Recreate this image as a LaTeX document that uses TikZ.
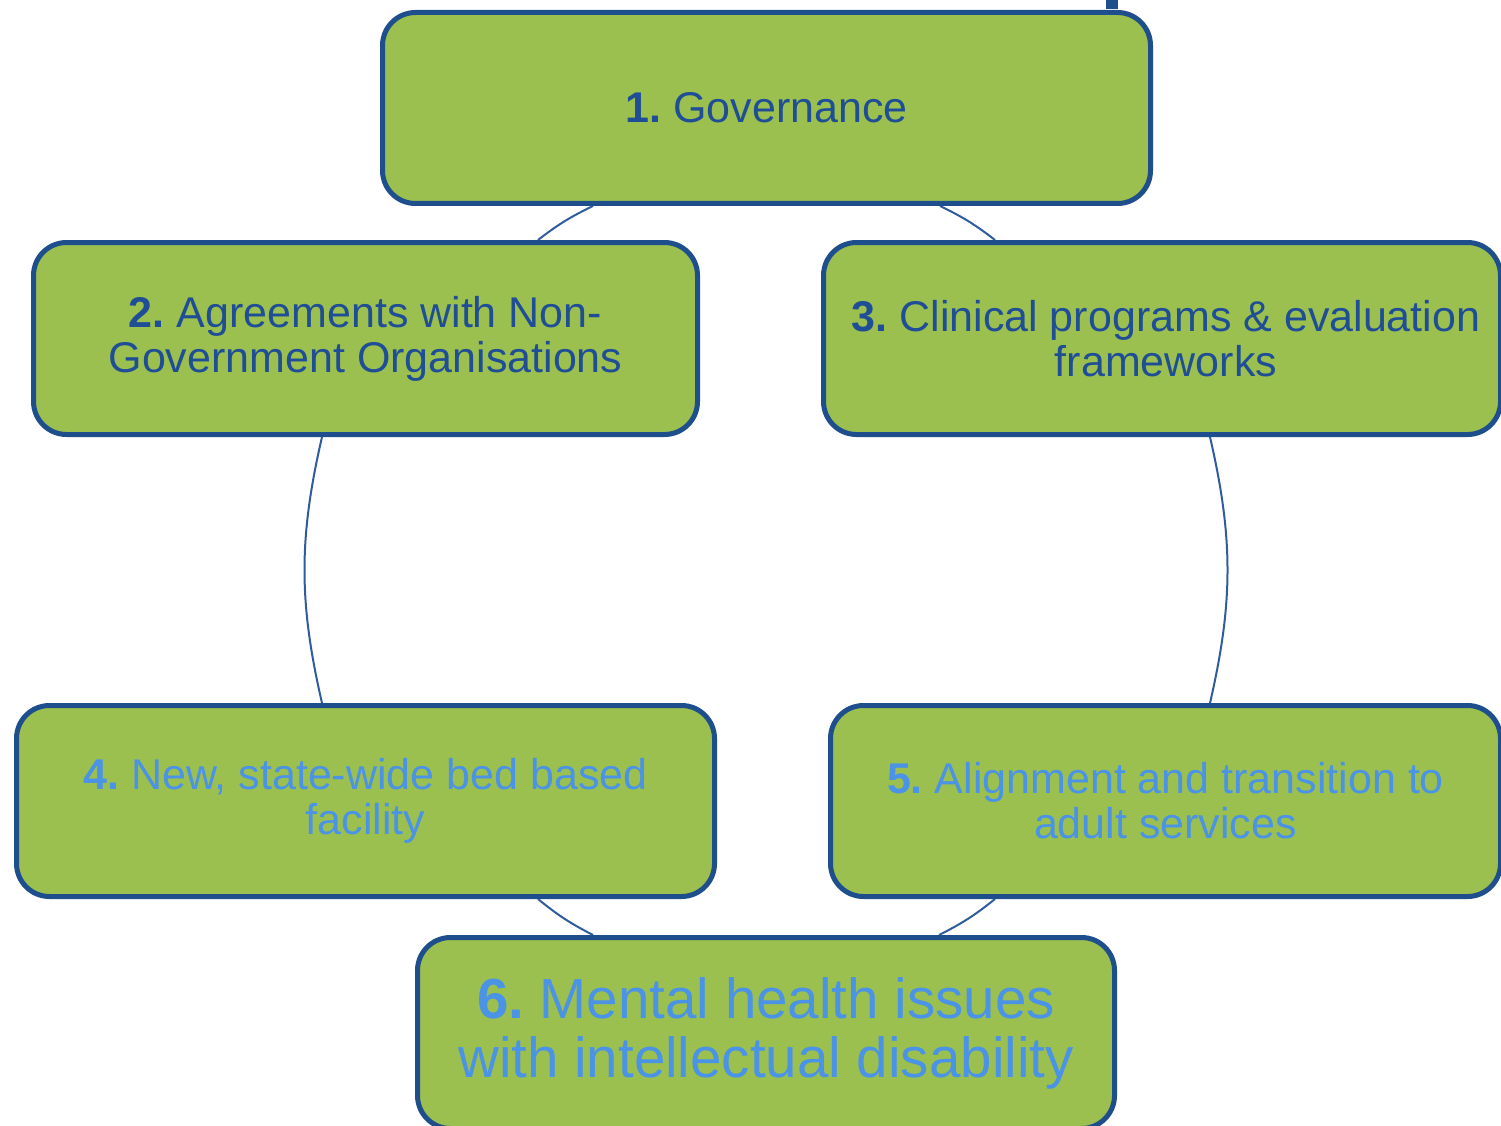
\documentclass[tikz,border=0pt]{standalone}
\usepackage{fontspec}
\setmainfont{Liberation Sans}
\usetikzlibrary{backgrounds}
\definecolor{boxfill}{HTML}{9BC04F}
\definecolor{boxline}{HTML}{1F4E8C}
\definecolor{darktext}{HTML}{1F4E96}
\definecolor{lighttext}{HTML}{4A93E6}
\definecolor{connline}{HTML}{2E5C9E}
\frenchspacing
\begin{document}
\begin{tikzpicture}[x=1pt,y=-1pt,
  cbox/.style={draw=boxline, line width=5pt, fill=boxfill, rounded corners=33pt,
    align=center, inner sep=0pt},
  darkt/.style={text=darktext, font=\fontsize{43}{45}\selectfont},
  lightt/.style={text=lighttext, font=\fontsize{43}{45}\selectfont},
  bigt/.style={text=lighttext, font=\fontsize{56.5}{59}\selectfont},
  conn/.style={draw=connline, line width=2pt}]
\useasboundingbox (0,0) rectangle (1501,1126);
\clip (0,0) rectangle (1501,1126);

\node[cbox, darkt, minimum width=768pt, minimum height=191pt] (n1) at (766.5,108)
  {\textbf{1.} Governance};
\node[cbox, darkt, minimum width=664pt, minimum height=192pt] (n2) at (365.5,338.5)
  {\textbf{2.} Agreements with Non-\\Government Organisations};
\node[cbox, darkt, minimum width=677pt, minimum height=192pt] (n3) at (1162,338.5)
  {\hspace*{8pt}\textbf{3.} Clinical programs \& evaluation\\\hspace*{8pt}frameworks};
\node[cbox, lightt, minimum width=698pt, minimum height=191pt] (n4) at (365.5,801)
  {\textbf{4.} New, state-wide bed based\\facility};
\node[cbox, lightt, minimum width=670pt, minimum height=191pt] (n5) at (1165.5,801)
  {\textbf{5.} Alignment and transition to\\adult services};
\node[cbox, bigt, minimum width=697pt, minimum height=191pt] (n6) at (766,1033)
  {\textbf{6.} Mental health issues\\with intellectual disability};

\begin{scope}[on background layer]
  \fill[boxline] (1106,0) rectangle (1118,9);
  \draw[conn] ([xshift=-173.5pt]n1.south) to[bend right=6] ([xshift=172.5pt]n2.north);
  \draw[conn] ([xshift=173.5pt]n1.south) to[bend left=6] ([xshift=-167pt]n3.north);
  \draw[conn] ([xshift=-43.5pt]n2.south) to[bend right=13] ([xshift=-43.5pt]n4.north);
  \draw[conn] ([xshift=48pt]n3.south) to[bend left=13] ([xshift=44.5pt]n5.north);
  \draw[conn] ([xshift=172.5pt]n4.south) to[bend right=6] ([xshift=-173pt]n6.north);
  \draw[conn] ([xshift=173pt]n6.north) to[bend right=6] ([xshift=-170.5pt]n5.south);
\end{scope}
\end{tikzpicture}
\end{document}
